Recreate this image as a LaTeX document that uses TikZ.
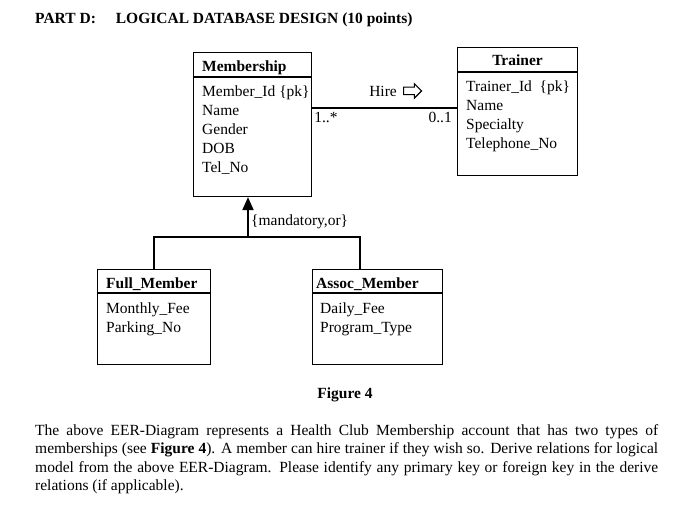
\documentclass[tikz,border=0pt]{standalone}
\usepackage{fontspec}
\setmainfont{Liberation Serif}
\usetikzlibrary{arrows.meta, positioning, shapes.arrows}

\begin{document}
\begin{tikzpicture}[
    x=1pt, y=-1pt,
    every node/.style={font=\fontsize{15.5}{19}\selectfont, inner sep=0pt},
    classbox/.style={rectangle, draw, line width=1.1pt, anchor=north west},
    divider/.style={line width=1.1pt},
    ctitle/.style={font=\fontsize{15.5}{19}\selectfont\bfseries, anchor=base west},
    attrs/.style={align=left, anchor=north west},
    rel/.style={line width=2.4pt},
    gen/.style={line width=2pt},
    genarrow/.style={gen, -{Triangle[width=11pt,length=13pt]}}
]
    \useasboundingbox (0,0) rectangle (689,511);
    \node[font=\fontsize{15.5}{19}\selectfont\bfseries, anchor=base west] (head) at (35,24)
        {PART D:\hspace{20pt}LOGICAL DATABASE DESIGN (10 points)};

    % classes
    \node[classbox, minimum width=118pt, minimum height=144pt] (member) at (193,52) {};
    \draw[divider] ([shift={(0,25)}]member.north west) -- ([shift={(0,25)}]member.north east);
    \node[ctitle] (memberT) at ([shift={(9,20)}]member.north west) {Membership};
    \node[attrs] (memberA) at ([shift={(9,30.7)}]member.north west)
        {\strut Member\_Id \{pk\}\\Name\\Gender\\DOB\\Tel\_No};

    \node[classbox, minimum width=120pt, minimum height=128pt] (trainer) at (457,47) {};
    \draw[divider] ([shift={(0,25)}]trainer.north west) -- ([shift={(0,25)}]trainer.north east);
    \node[ctitle, anchor=base] (trainerT) at ([shift={(0,19)}]trainer.north) {Trainer};
    \node[attrs] (trainerA) at ([shift={(9,30.7)}]trainer.north west)
        {\strut Trainer\_Id~ \{pk\}\\Name\\Specialty\\Telephone\_No};

    \node[classbox, minimum width=113pt, minimum height=95pt] (full) at (97,269) {};
    \draw[divider] ([shift={(0,24)}]full.north west) -- ([shift={(0,24)}]full.north east);
    \node[ctitle] (fullT) at ([shift={(9,19)}]full.north west) {Full\_Member};
    \node[attrs] (fullA) at ([shift={(9,30.7)}]full.north west) {\strut Monthly\_Fee\\Parking\_No};

    \node[classbox, minimum width=130pt, minimum height=95pt] (assoc) at (312,269) {};
    \draw[divider] ([shift={(0,24)}]assoc.north west) -- ([shift={(0,24)}]assoc.north east);
    \node[ctitle] (assocT) at ([shift={(4,19)}]assoc.north west) {Assoc\_Member};
    \node[attrs] (assocA) at ([shift={(8,30.7)}]assoc.north west) {\strut Daily\_Fee\\Program\_Type};

    % Hire association
    \coordinate (hireL) at (member.east |- 0,108);
    \coordinate (hireR) at (trainer.west |- 0,108);
    \draw[rel] (hireL) -- (hireR);
    \node[anchor=base west] (multL) at ([shift={(2,15)}]hireL) {1..*};
    \node[anchor=base east] (multR) at ([shift={(-5,15)}]hireR) {0..1};
    \node[anchor=base east] (hire) at (397,96) {Hire};
    \node[single arrow, draw, line width=1.1pt, inner sep=3.2pt, minimum height=18pt,
          single arrow head extend=3.5pt, right=6pt of hire] (hireDir) {};

    % generalization
    \coordinate (split) at (248,237);
    \draw[genarrow] (split) -- (split |- member.south);
    \draw[gen] (full.north) |- (split) -| (assoc.north -| 360,0);
    \node[anchor=west] (constraint) at (251,222) {\{mandatory,or\}};

    \node[font=\fontsize{15.5}{19}\selectfont\bfseries, anchor=base] (caption) at (345,398) {Figure 4};
    \node[text width=623pt, align=justify, anchor=north west, font=\fontsize{15.5}{18.5}\selectfont] (desc) at (35,424)
        {The above EER-Diagram represents a Health Club Membership account that has two types of\linebreak
         memberships (see \textbf{Figure 4}). A member can hire trainer if they wish so. Derive relations for logical\linebreak
         model from the above EER-Diagram. Please identify any primary key or foreign key in the derive\linebreak
         relations (if applicable).};
\end{tikzpicture}
\end{document}
